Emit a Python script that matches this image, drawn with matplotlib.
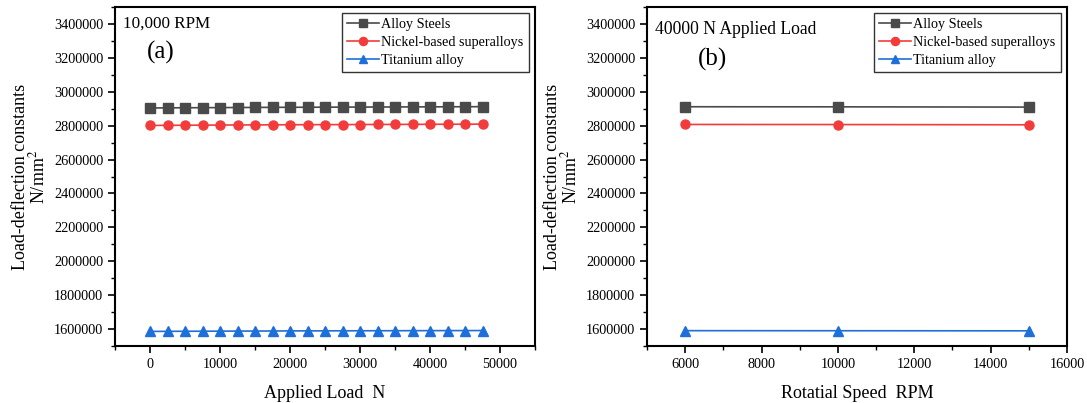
import matplotlib
matplotlib.use("Agg")
import matplotlib.pyplot as plt
from matplotlib.ticker import MultipleLocator

plt.rcParams['font.family'] = ['Liberation Serif', 'DejaVu Serif']
plt.rcParams['mathtext.fontset'] = 'stix'

# Panel (a): 10,000 RPM, varying applied load
load_n = [0, 2500, 5000, 7500, 10000, 12500, 15000, 17500, 20000, 22500,
          25000, 27500, 30000, 32500, 35000, 37500, 40000, 42500, 45000, 47500]
alloy_a = [2904000, 2905000, 2905500, 2906000, 2906500, 2907000, 2907500, 2908000, 2908300, 2908600,
           2909000, 2909300, 2909600, 2910000, 2910300, 2910600, 2911000, 2911300, 2911600, 2912000]
nickel_a = [2801000, 2802000, 2802500, 2803000, 2803500, 2804000, 2804500, 2805000, 2805300, 2805600,
            2806000, 2806300, 2806600, 2807000, 2807300, 2807600, 2808000, 2808300, 2808600, 2809000]
titanium_a = [1586000, 1586500, 1587000, 1587300, 1587600, 1588000, 1588300, 1588600, 1589000, 1589200,
              1589400, 1589600, 1589800, 1590000, 1590200, 1590400, 1590600, 1590800, 1591000, 1591200]

# Panel (b): 40000 N applied load, varying speed
speed_rpm = [6000, 10000, 15000]
alloy_b = [2911500, 2911000, 2909500]
nickel_b = [2807000, 2806500, 2805000]
titanium_b = [1590500, 1590000, 1589500]

series_names = ['Alloy Steels', 'Nickel-based superalloys', 'Titanium alloy']
colors = ['#4a4a4a', '#f23c3c', '#1e6fd9']
markers = ['s', 'o', '^']

fig = plt.figure(figsize=(10.87, 4.03), dpi=100)
ax1 = fig.add_axes([115/1087, 1-346/403, 420/1087, 339/403])
ax2 = fig.add_axes([647/1087, 1-346/403, 420/1087, 339/403])

def style(ax):
    for s in ax.spines.values():
        s.set_linewidth(1.5)
        s.set_color('black')
    ax.tick_params(axis='both', which='major', direction='out', length=5, width=1.2,
                   labelsize=10.3, top=False, right=False)
    ax.tick_params(axis='both', which='minor', direction='out', length=3, width=1.0,
                   top=False, right=False)
    ax.set_ylim(1500000, 3500000)
    ax.yaxis.set_major_locator(MultipleLocator(200000))
    ax.yaxis.set_minor_locator(MultipleLocator(100000))
    ax.ticklabel_format(axis='y', style='plain', useOffset=False)
    ax.set_ylabel('Load-deflection constants\nN/mm$^{2}$', fontsize=13, linespacing=0.95,
                  labelpad=4)

for ax, x, ys in [(ax1, load_n, [alloy_a, nickel_a, titanium_a]),
                  (ax2, speed_rpm, [alloy_b, nickel_b, titanium_b])]:
    for y, name, c, m in zip(ys, series_names, colors, markers):
        ax.plot(x, y, color=c, marker=m, markersize=6.5, linewidth=1.2,
                markerfacecolor=c, markeredgecolor=c, label=name)
    style(ax)
    leg = ax.legend(loc='upper right', fontsize=10.2, frameon=True, fancybox=False,
                    edgecolor='black', borderaxespad=0.45, handlelength=2.2,
                    handletextpad=0.2, labelspacing=0.33, borderpad=0.35, markerscale=0.9)
    leg.get_frame().set_linewidth(1.0)

ax1.set_xlim(-5000, 55000)
ax1.xaxis.set_major_locator(MultipleLocator(10000))
ax1.xaxis.set_minor_locator(MultipleLocator(5000))
ax1.set_xlabel('Applied Load  N', fontsize=13, labelpad=10)
ax1.text(0.02, 0.95, '10,000 RPM', transform=ax1.transAxes, fontsize=12.3, va='center', ha='left')
ax1.text(0.075, 0.867, '(a)', transform=ax1.transAxes, fontsize=18, va='center', ha='left')

ax2.set_xlim(5000, 16000)
ax2.xaxis.set_major_locator(MultipleLocator(2000))
ax2.xaxis.set_minor_locator(MultipleLocator(1000))
ax2.set_xlabel('Rotatial Speed  RPM', fontsize=13, labelpad=10)
ax2.text(0.02, 0.935, '40000 N Applied Load', transform=ax2.transAxes, fontsize=12.7, va='center', ha='left')
ax2.text(0.12, 0.845, '(b)', transform=ax2.transAxes, fontsize=18, va='center', ha='left')

fig.savefig('out.png', dpi=100)
